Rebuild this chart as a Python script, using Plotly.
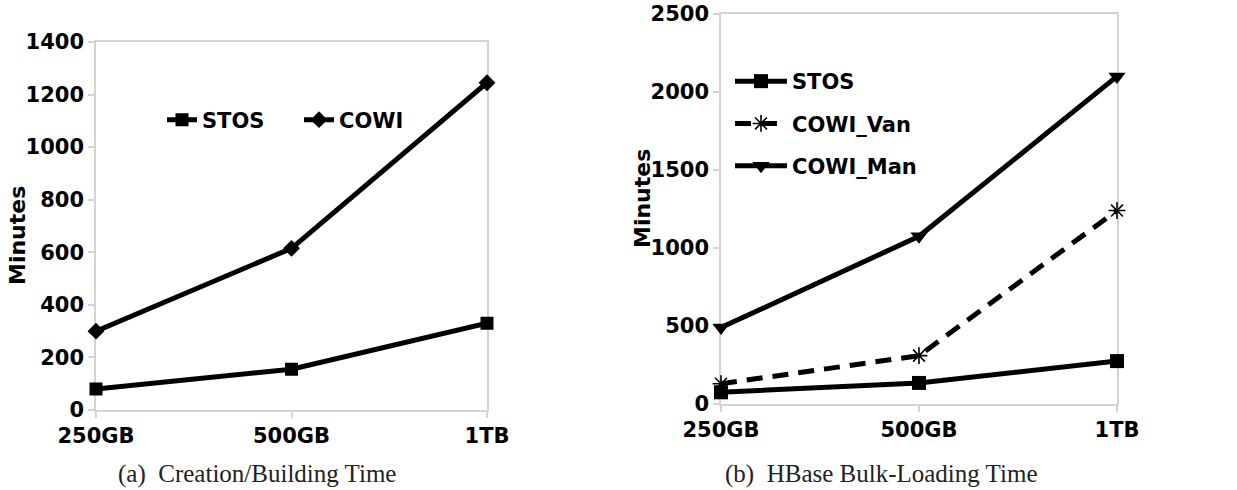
import plotly.graph_objects as go

categories = ["250GB", "500GB", "1TB"]
# (a) Creation/Building Time
a_stos = [80, 155, 330]
a_cowi = [300, 615, 1245]
# (b) HBase Bulk-Loading Time
b_stos = [75, 135, 275]
b_cowi_van = [130, 310, 1240]
b_cowi_man = [490, 1075, 2100]

a_yticks = [0, 200, 400, 600, 800, 1000, 1200, 1400]
b_yticks = [0, 500, 1000, 1500, 2000, 2500]

W, H = 1237, 490
FONT = dict(family="DejaVu Sans", size=21, color="black", weight="bold")
GRID = "#d4d4d4"

xs = list(range(len(categories)))

fig = go.Figure()

def line(x, y, name, symbol, size, xa, ya, legend, dash="solid", group=None, mline=0):
    fig.add_trace(go.Scatter(
        x=x, y=y, name=name, mode="lines+markers",
        line=dict(color="black", width=5, dash=dash),
        marker=dict(symbol=symbol, size=size, color="black",
                    line=dict(color="black", width=mline)),
        xaxis=xa, yaxis=ya, legend=legend, cliponaxis=False,
        legendgroup=group,
    ))

line(xs, a_stos, "STOS", "square", 13, "x", "y", "legend")
line(xs, a_cowi, "COWI", "diamond", 13, "x", "y", "legend")
line(xs, b_stos, "STOS", "square", 14, "x2", "y2", "legend2", group="g1")
line(xs, b_cowi_van, "COWI_Van", "asterisk-open", 14, "x2", "y2", "legend2",
     dash="16px,10px", group="g2", mline=1.6)
line(xs, b_cowi_man, "COWI_Man", "triangle-down", 15, "x2", "y2", "legend2", group="g3")

def px_x(p):
    return p / W

def px_y(p):
    return 1 - p / H

axis_common = dict(
    showgrid=False, zeroline=False, showline=True, mirror=True, automargin=False,
    linecolor=GRID, linewidth=1.5, ticks="outside", tickcolor=GRID,
    ticklen=6, tickwidth=1.5, tickfont=FONT, layer="below traces",
)

fig.update_layout(
    width=W, height=H,
    margin=dict(l=0, r=0, t=0, b=0, pad=0, autoexpand=False),
    paper_bgcolor="white", plot_bgcolor="white",
    xaxis=dict(domain=[px_x(96), px_x(487)], range=[0, 2], tickvals=xs,
               ticktext=categories, anchor="y", **axis_common),
    yaxis=dict(domain=[px_y(410), px_y(42)], range=[0, 1400], tickvals=a_yticks,
               anchor="x", **axis_common),
    xaxis2=dict(domain=[px_x(721), px_x(1117)], range=[0, 2], tickvals=xs,
                ticktext=categories, anchor="y2", **axis_common),
    yaxis2=dict(domain=[px_y(404), px_y(14)], range=[0, 2500], tickvals=b_yticks,
                anchor="x2", **axis_common),
    legend=dict(orientation="h", x=px_x(162), y=px_y(120), xanchor="left",
                yanchor="middle", font=FONT, bgcolor="rgba(0,0,0,0)",
                entrywidth=92, entrywidthmode="pixels"),
    legend2=dict(orientation="v", x=px_x(730), y=px_y(61), xanchor="left",
                 yanchor="top", font=FONT, bgcolor="rgba(0,0,0,0)",
                 tracegroupgap=12, itemwidth=52),
    showlegend=True,
)

annos = [
    dict(text="Minutes", x=px_x(17), y=px_y(236), textangle=-90),
    dict(text="Minutes", x=px_x(642), y=px_y(199), textangle=-90),
]
for a in annos:
    fig.add_annotation(xref="paper", yref="paper", showarrow=False,
                       font=dict(family="DejaVu Sans", size=22, color="black",
                                 weight="bold"),
                       xanchor="center", yanchor="middle", **a)

caps = [
    dict(text="(a)  Creation/Building Time", x=px_x(257)),
    dict(text="(b)  HBase Bulk-Loading Time", x=px_x(881)),
]
for c in caps:
    fig.add_annotation(xref="paper", yref="paper", showarrow=False,
                       font=dict(family="Liberation Serif", size=25, color="#222"),
                       xanchor="center", yanchor="bottom", y=0, **c)

fig.write_html("out.html")
